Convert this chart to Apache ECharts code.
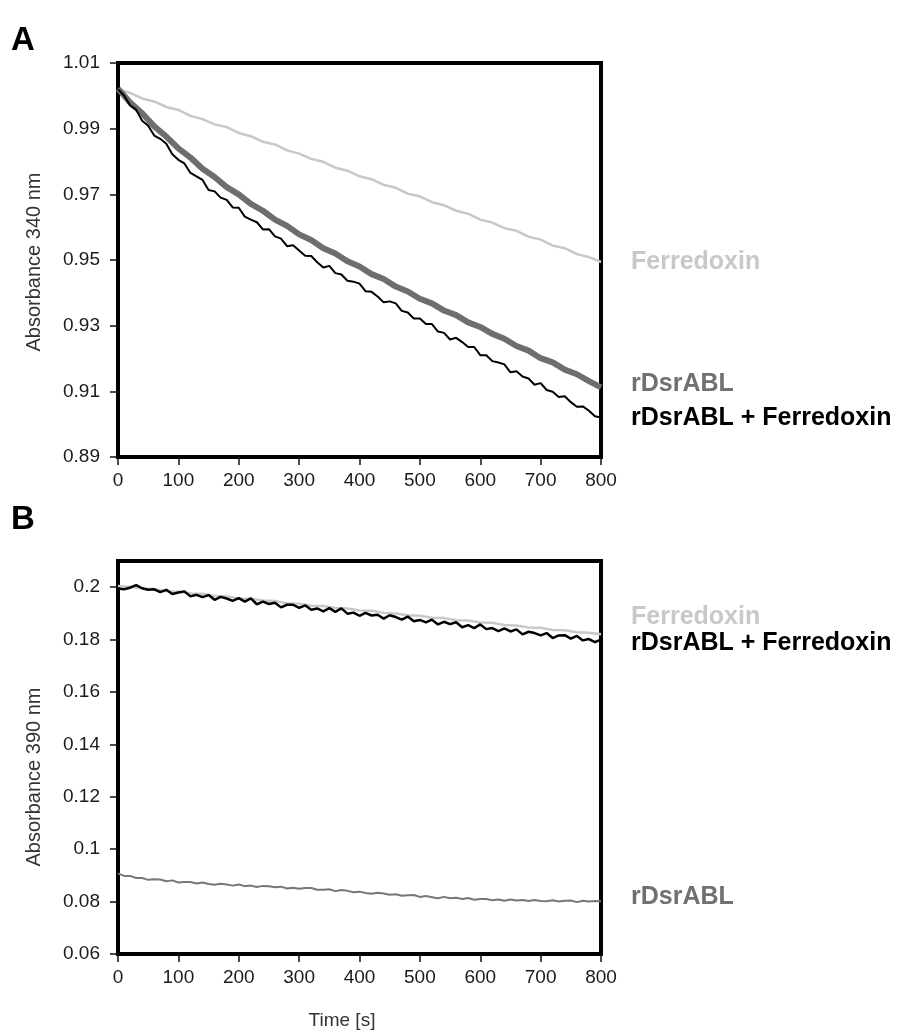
<!DOCTYPE html>
<html>
<head>
<meta charset="utf-8">
<script src="https://cdn.jsdelivr.net/npm/echarts@6/dist/echarts.min.js"></script>
<style>
html,body{margin:0;padding:0;background:#fff;}
#chart{width:899px;height:1032px;}
</style>
</head>
<body>
<div id="chart"></div>
<script>
// ---------- data ----------
const xTicks = [0, 100, 200, 300, 400, 500, 600, 700, 800];
const yTicksA = [0.89, 0.91, 0.93, 0.95, 0.97, 0.99, 1.01];
const yTicksB = [0.06, 0.08, 0.1, 0.12, 0.14, 0.16, 0.18, 0.2];

const step10 = Array.from({length: 81}, (_, i) => i * 10);
const step20 = Array.from({length: 41}, (_, i) => i * 20);

// Panel A, absorbance 340 nm
const A_ferredoxin = [1.0020,1.0009,0.9992,0.9983,0.9966,0.9957,0.9939,0.9929,0.9913,0.9905,0.9887,0.9877,0.9860,0.9852,0.9834,0.9824,0.9808,0.9799,0.9781,0.9772,0.9755,0.9746,0.9729,0.9720,0.9702,0.9694,0.9676,0.9667,0.9650,0.9641,0.9623,0.9614,0.9597,0.9589,0.9571,0.9562,0.9544,0.9536,0.9518,0.9509,0.9494]; // every 20 s
const A_rDsrABL = [1.0022,0.9980,0.9947,0.9907,0.9876,0.9840,0.9812,0.9778,0.9753,0.9722,0.9700,0.9671,0.9650,0.9623,0.9604,0.9578,0.9561,0.9536,0.9520,0.9496,0.9480,0.9457,0.9442,0.9419,0.9404,0.9382,0.9368,0.9346,0.9332,0.9310,0.9296,0.9275,0.9260,0.9238,0.9224,0.9201,0.9188,0.9166,0.9152,0.9131,0.9112]; // every 20 s
const A_both = [1.0020,1.0001,0.9971,0.9958,0.9924,0.9909,0.9879,0.9869,0.9854,0.9822,0.9805,0.9794,0.9765,0.9755,0.9744,0.9713,0.9709,0.9690,0.9683,0.9660,0.9659,0.9632,0.9623,0.9615,0.9593,0.9594,0.9572,0.9565,0.9542,0.9545,0.9529,0.9513,0.9512,0.9493,0.9477,0.9482,0.9460,0.9456,0.9437,0.9434,0.9428,0.9405,0.9403,0.9389,0.9371,0.9374,0.9368,0.9345,0.9340,0.9322,0.9322,0.9305,0.9305,0.9282,0.9278,0.9258,0.9263,0.9250,0.9235,0.9235,0.9210,0.9210,0.9192,0.9188,0.9182,0.9158,0.9161,0.9145,0.9139,0.9120,0.9125,0.9104,0.9099,0.9083,0.9085,0.9067,0.9053,0.9054,0.9041,0.9024,0.9020]; // every 10 s

// Panel B, absorbance 390 nm
const B_ferredoxin = [0.2005,0.2002,0.1995,0.1993,0.1985,0.1983,0.1976,0.1975,0.1966,0.1965,0.1957,0.1956,0.1949,0.1947,0.1939,0.1937,0.1929,0.1928,0.1921,0.1919,0.1911,0.1910,0.1902,0.1900,0.1893,0.1891,0.1883,0.1882,0.1874,0.1873,0.1865,0.1864,0.1856,0.1854,0.1846,0.1845,0.1837,0.1836,0.1828,0.1826,0.1820]; // every 20 s
const B_both = [0.1995,0.1992,0.1998,0.2008,0.1996,0.1990,0.1992,0.1981,0.1990,0.1974,0.1980,0.1984,0.1965,0.1971,0.1962,0.1970,0.1952,0.1963,0.1957,0.1948,0.1958,0.1945,0.1957,0.1935,0.1945,0.1936,0.1941,0.1923,0.1933,0.1933,0.1921,0.1931,0.1914,0.1919,0.1908,0.1920,0.1906,0.1919,0.1899,0.1903,0.1891,0.1902,0.1892,0.1895,0.1880,0.1893,0.1886,0.1876,0.1888,0.1870,0.1875,0.1866,0.1876,0.1858,0.1868,0.1859,0.1866,0.1847,0.1855,0.1844,0.1858,0.1840,0.1844,0.1832,0.1843,0.1831,0.1839,0.1820,0.1830,0.1825,0.1816,0.1825,0.1806,0.1816,0.1817,0.1804,0.1814,0.1797,0.1802,0.1790,0.1800]; // every 10 s
const B_rDsrABL = [0.0908,0.0898,0.0898,0.0890,0.0890,0.0883,0.0885,0.0884,0.0878,0.0881,0.0873,0.0875,0.0875,0.0869,0.0873,0.0867,0.0864,0.0868,0.0865,0.0861,0.0865,0.0859,0.0861,0.0856,0.0860,0.0859,0.0855,0.0857,0.0850,0.0853,0.0849,0.0852,0.0852,0.0845,0.0845,0.0847,0.0840,0.0844,0.0841,0.0836,0.0838,0.0833,0.0830,0.0834,0.0831,0.0826,0.0828,0.0822,0.0824,0.0825,0.0818,0.0821,0.0817,0.0813,0.0818,0.0813,0.0815,0.0810,0.0814,0.0807,0.0810,0.0810,0.0805,0.0808,0.0803,0.0808,0.0804,0.0806,0.0802,0.0806,0.0802,0.0801,0.0805,0.0800,0.0803,0.0804,0.0798,0.0803,0.0800,0.0802,0.0801]; // every 10 s

const seriesNames = ['Ferredoxin', 'rDsrABL', 'rDsrABL + Ferredoxin'];
// ---------------------------------------------------

const FONT = '"Liberation Sans", Arial, Helvetica, sans-serif';
const pair = (ts, vs) => vs.map((v, i) => [ts[i], v]);

const xAxisBase = {
  type: 'value', min: 0, max: 800, interval: 100,
  axisLine: {show: false},
  axisTick: {show: true, length: 8, inside: false, lineStyle: {color: '#111', width: 1.5}},
  axisLabel: {color: '#1a1a1a', fontSize: 19, fontFamily: FONT, margin: 14},
  splitLine: {show: false}
};
const yAxisBase = {
  type: 'value',
  axisLine: {show: false},
  axisTick: {show: true, length: 8, inside: false, lineStyle: {color: '#111', width: 1.5}},
  splitLine: {show: false}
};

const chart = echarts.init(document.getElementById('chart'), null, {renderer: 'canvas'});
chart.setOption({
  animation: false,
  backgroundColor: '#fff',
  grid: [
    {left: 118, top: 63, width: 483, height: 394, show: true, borderColor: '#000', borderWidth: 4, backgroundColor: 'transparent'},
    {left: 118, top: 561, width: 483, height: 393, show: true, borderColor: '#000', borderWidth: 4, backgroundColor: 'transparent'}
  ],
  xAxis: [
    Object.assign({}, xAxisBase, {gridIndex: 0, axisLabel: Object.assign({}, xAxisBase.axisLabel, {customValues: xTicks}), axisTick: Object.assign({}, xAxisBase.axisTick, {customValues: xTicks})}),
    Object.assign({}, xAxisBase, {gridIndex: 1, axisLabel: Object.assign({}, xAxisBase.axisLabel, {customValues: xTicks}), axisTick: Object.assign({}, xAxisBase.axisTick, {customValues: xTicks})})
  ],
  yAxis: [
    Object.assign({}, yAxisBase, {
      gridIndex: 0, min: 0.89, max: 1.01,
      axisTick: Object.assign({}, yAxisBase.axisTick, {customValues: yTicksA}),
      axisLabel: {customValues: yTicksA, color: '#1a1a1a', fontSize: 19, fontFamily: FONT, margin: 18, formatter: v => Number(v).toFixed(2)}
    }),
    Object.assign({}, yAxisBase, {
      gridIndex: 1, min: 0.06, max: 0.21,
      axisTick: Object.assign({}, yAxisBase.axisTick, {customValues: yTicksB}),
      axisLabel: {customValues: yTicksB, color: '#1a1a1a', fontSize: 19, fontFamily: FONT, margin: 18, formatter: v => String(+Number(v).toFixed(2))}
    })
  ],
  series: [
    {name: seriesNames[0], type: 'line', xAxisIndex: 0, yAxisIndex: 0, showSymbol: false, data: pair(step20, A_ferredoxin), lineStyle: {color: '#c8c8c8', width: 2.5}, z: 2},
    {name: seriesNames[1], type: 'line', xAxisIndex: 0, yAxisIndex: 0, showSymbol: false, data: pair(step20, A_rDsrABL), lineStyle: {color: '#6e6e6e', width: 6}, z: 3},
    {name: seriesNames[2], type: 'line', xAxisIndex: 0, yAxisIndex: 0, showSymbol: false, data: pair(step10, A_both), lineStyle: {color: '#000', width: 2}, z: 4},
    {name: seriesNames[0], type: 'line', xAxisIndex: 1, yAxisIndex: 1, showSymbol: false, data: pair(step20, B_ferredoxin), lineStyle: {color: '#c8c8c8', width: 2.5}, z: 2},
    {name: seriesNames[1], type: 'line', xAxisIndex: 1, yAxisIndex: 1, showSymbol: false, data: pair(step10, B_rDsrABL), lineStyle: {color: '#777', width: 2}, z: 3},
    {name: seriesNames[2], type: 'line', xAxisIndex: 1, yAxisIndex: 1, showSymbol: false, data: pair(step10, B_both), lineStyle: {color: '#000', width: 2.5}, z: 4}
  ],
  graphic: [
    {type: 'text', left: 11, top: 24, style: {text: 'A', font: 'bold 33px ' + FONT, fill: '#000'}},
    {type: 'text', left: 11, top: 503, style: {text: 'B', font: 'bold 33px ' + FONT, fill: '#000'}},
    {type: 'text', x: 34, y: 262, rotation: Math.PI / 2, style: {text: 'Absorbance 340 nm', font: '20px ' + FONT, fill: '#333', align: 'center', verticalAlign: 'middle', textAlign: 'center', textVerticalAlign: 'middle'}},
    {type: 'text', x: 34, y: 777, rotation: Math.PI / 2, style: {text: 'Absorbance 390 nm', font: '20px ' + FONT, fill: '#333', align: 'center', verticalAlign: 'middle', textAlign: 'center', textVerticalAlign: 'middle'}},
    {type: 'text', x: 342, y: 1021, style: {text: 'Time [s]', font: '19px ' + FONT, fill: '#333', align: 'center', verticalAlign: 'middle', textAlign: 'center', textVerticalAlign: 'middle'}},
    {type: 'text', x: 631, y: 262, style: {text: seriesNames[0], font: 'bold 25px ' + FONT, fill: '#c8c8c8', verticalAlign: 'middle', textVerticalAlign: 'middle'}},
    {type: 'text', x: 631, y: 384, style: {text: seriesNames[1], font: 'bold 25px ' + FONT, fill: '#707070', verticalAlign: 'middle', textVerticalAlign: 'middle'}},
    {type: 'text', x: 631, y: 418, style: {text: seriesNames[2], font: 'bold 25px ' + FONT, fill: '#000', verticalAlign: 'middle', textVerticalAlign: 'middle'}},
    {type: 'text', x: 631, y: 617, style: {text: seriesNames[0], font: 'bold 25px ' + FONT, fill: '#c8c8c8', verticalAlign: 'middle', textVerticalAlign: 'middle'}},
    {type: 'text', x: 631, y: 643, style: {text: seriesNames[2], font: 'bold 25px ' + FONT, fill: '#000', verticalAlign: 'middle', textVerticalAlign: 'middle'}},
    {type: 'text', x: 631, y: 897, style: {text: seriesNames[1], font: 'bold 25px ' + FONT, fill: '#707070', verticalAlign: 'middle', textVerticalAlign: 'middle'}}
  ]
});
</script>
</body>
</html>
